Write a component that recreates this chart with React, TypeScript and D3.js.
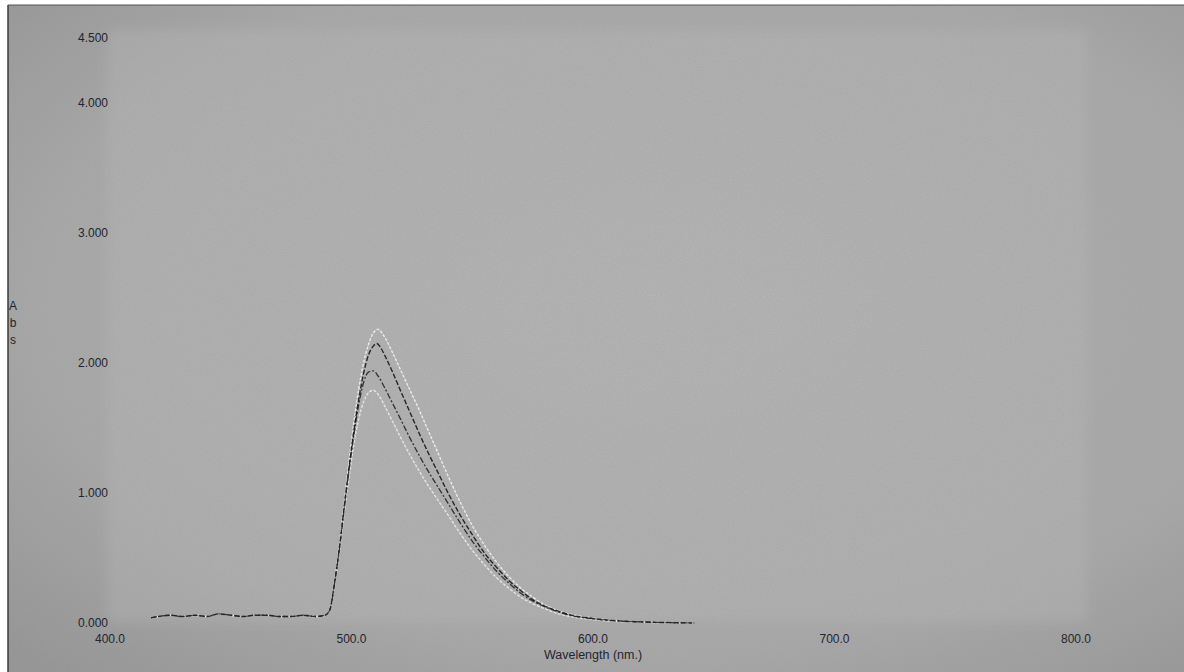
import React from "react";
import * as d3 from "d3";

// ---- data ----
const yTicks = [0, 1, 2, 3, 4, 4.5];
const yTickLabels = ["0.000", "1.000", "2.000", "3.000", "4.000", "4.500"];
const xTicks = [400, 500, 600, 700, 800];
const xTickLabels = ["400.0", "500.0", "600.0", "700.0", "800.0"];
const xTitle = "Wavelength (nm.)";
const yTitle = ["A", "b", "s"];

// shared noisy baseline (nm, Abs)
const baseline: [number, number][] = [
  [417, 0.04], [420, 0.05], [425, 0.06], [430, 0.05], [435, 0.06], [440, 0.05],
  [445, 0.07], [450, 0.06], [455, 0.05], [460, 0.06], [465, 0.06], [470, 0.05],
  [475, 0.05], [480, 0.06], [485, 0.05], [489, 0.06],
];

// top (light) curve
const seriesA: [number, number][] = [
  [491, 0.1], [493, 0.32], [495, 0.6], [497, 0.93], [499, 1.25], [501, 1.55], [503, 1.8],
  [505, 2.0], [507, 2.14], [509, 2.23], [511, 2.26], [513, 2.22], [517, 2.08], [520, 1.96],
  [524, 1.8], [528, 1.64], [532, 1.47], [536, 1.3], [540, 1.13], [545, 0.93], [550, 0.75],
  [555, 0.6], [560, 0.47], [565, 0.36], [570, 0.27], [575, 0.2], [580, 0.14], [585, 0.1],
  [590, 0.07], [600, 0.038], [610, 0.018], [625, 0.006], [642, 0],
];
// dark dashed curve
const seriesB: [number, number][] = [
  [491, 0.1], [493, 0.31], [495, 0.58], [497, 0.9], [499, 1.2], [501, 1.48], [503, 1.72],
  [505, 1.92], [507, 2.06], [509, 2.13], [510.5, 2.15], [512, 2.12], [514, 2.05], [517, 1.93],
  [520, 1.8], [524, 1.63], [528, 1.46], [532, 1.3], [536, 1.15], [540, 1.0], [545, 0.83],
  [550, 0.68], [555, 0.54], [560, 0.43], [565, 0.33], [570, 0.25], [575, 0.18], [580, 0.13],
  [585, 0.095], [590, 0.065], [600, 0.035], [610, 0.017], [625, 0.006], [642, 0],
];
// dark dash-dot curve
const seriesC: [number, number][] = [
  [491, 0.1], [493, 0.31], [495, 0.57], [497, 0.88], [499, 1.18], [501, 1.45], [503, 1.68],
  [505, 1.85], [507, 1.93], [509, 1.94], [511, 1.9], [514, 1.8], [517, 1.69], [520, 1.58],
  [524, 1.43], [528, 1.29], [532, 1.16], [536, 1.04], [540, 0.92], [545, 0.77], [550, 0.63],
  [555, 0.51], [560, 0.4], [565, 0.31], [570, 0.23], [575, 0.17], [580, 0.125], [585, 0.09],
  [590, 0.062], [600, 0.032], [610, 0.016], [625, 0.005], [642, 0],
];
// lower (light) curve
const seriesD: [number, number][] = [
  [491, 0.1], [493, 0.3], [495, 0.55], [497, 0.85], [499, 1.12], [501, 1.38], [503, 1.57],
  [505, 1.7], [507, 1.77], [509, 1.79], [511, 1.76], [514, 1.66], [517, 1.55], [520, 1.44],
  [524, 1.3], [528, 1.17], [532, 1.05], [536, 0.94], [540, 0.83], [545, 0.69], [550, 0.56],
  [555, 0.45], [560, 0.35], [565, 0.27], [570, 0.2], [575, 0.15], [580, 0.11], [585, 0.075],
  [590, 0.052], [600, 0.026], [610, 0.012], [625, 0.004], [642, 0],
];

const W = 1184;
const H = 672;

export default function App() {
  const x = d3.scaleLinear().domain([400, 800]).range([110, 1076]);
  const y = d3.scaleLinear().domain([0, 4.5]).range([623, 38]);
  const line = d3
    .line<[number, number]>()
    .x((d) => x(d[0]))
    .y((d) => y(d[1]))
    .curve(d3.curveMonotoneX);

  const full = (s: [number, number][]) => [...baseline, ...s];

  const styles = [
    { data: seriesD, stroke: "#e4e4e4", width: 1.4, dash: "3,1.5" },
    { data: seriesA, stroke: "#eaeaea", width: 1.4, dash: "3,1.5" },
    { data: seriesC, stroke: "#333", width: 1.3, dash: "6,2,2,2" },
    { data: seriesB, stroke: "#262626", width: 1.4, dash: "5,2" },
  ];

  const font = "'Liberation Sans', Arial, sans-serif";

  return (
    <svg
      width={W}
      height={H}
      style={{ position: "absolute", left: 0, top: 0, display: "block" }}
    >
      <defs>
        <radialGradient id="vig" cx="0.55" cy="0.45" r="0.75">
          <stop offset="0" stopColor="#b0b0b0" />
          <stop offset="0.7" stopColor="#a7a7a7" />
          <stop offset="1" stopColor="#959595" />
        </radialGradient>
        <filter id="soft" x="-5%" y="-5%" width="110%" height="110%">
          <feGaussianBlur stdDeviation="6" />
        </filter>
        <filter id="noise" x="0" y="0" width="100%" height="100%">
          <feTurbulence type="fractalNoise" baseFrequency="0.85" numOctaves="2" seed="3" />
          <feColorMatrix
            type="matrix"
            values="0 0 0 0 0.35  0 0 0 0 0.35  0 0 0 0 0.35  0 0 0 -1.6 1.0"
          />
        </filter>
      </defs>
      <rect x={0} y={0} width={W} height={H} fill="#ffffff" />
      <rect x={8} y={5} width={W - 8} height={H - 5} fill="url(#vig)" />
      <rect
        x={x(400) - 3}
        y={y(4.5) - 8}
        width={x(800) - x(400) + 14}
        height={y(0) - y(4.5) + 7}
        fill="#b8b8b8"
        opacity={0.4}
        filter="url(#soft)"
      />
      <rect x={8} y={5} width={W - 8} height={H - 5} filter="url(#noise)" opacity={0.5} />
      <line x1={8} y1={5} x2={8} y2={H} stroke="#3a3a3a" strokeWidth={1.5} />
      <line x1={8} y1={5} x2={W} y2={5} stroke="#555" strokeWidth={1.2} />

      {yTicks.map((t, i) => (
        <text
          key={"y" + i}
          x={108}
          y={y(t) + 4}
          textAnchor="end"
          fontFamily={font}
          fontSize={12}
          fill="#1f2530"
        >
          {yTickLabels[i]}
        </text>
      ))}
      {xTicks.map((t, i) => (
        <text
          key={"x" + i}
          x={x(t)}
          y={643}
          textAnchor="middle"
          fontFamily={font}
          fontSize={12}
          fill="#1f2530"
        >
          {xTickLabels[i]}
        </text>
      ))}
      <text
        x={x(600)}
        y={659}
        textAnchor="middle"
        fontFamily={font}
        fontSize={12.5}
        fill="#1f2530"
      >
        {xTitle}
      </text>
      {yTitle.map((c, i) => (
        <text
          key={"t" + i}
          x={13}
          y={310 + i * 17}
          textAnchor="middle"
          fontFamily={font}
          fontSize={12}
          fill="#1f2530"
        >
          {c}
        </text>
      ))}

      {styles.map((s, i) => (
        <path
          key={"s" + i}
          d={line(full(s.data)) || ""}
          fill="none"
          stroke={s.stroke}
          strokeWidth={s.width}
          strokeDasharray={s.dash}
        />
      ))}
    </svg>
  );
}
